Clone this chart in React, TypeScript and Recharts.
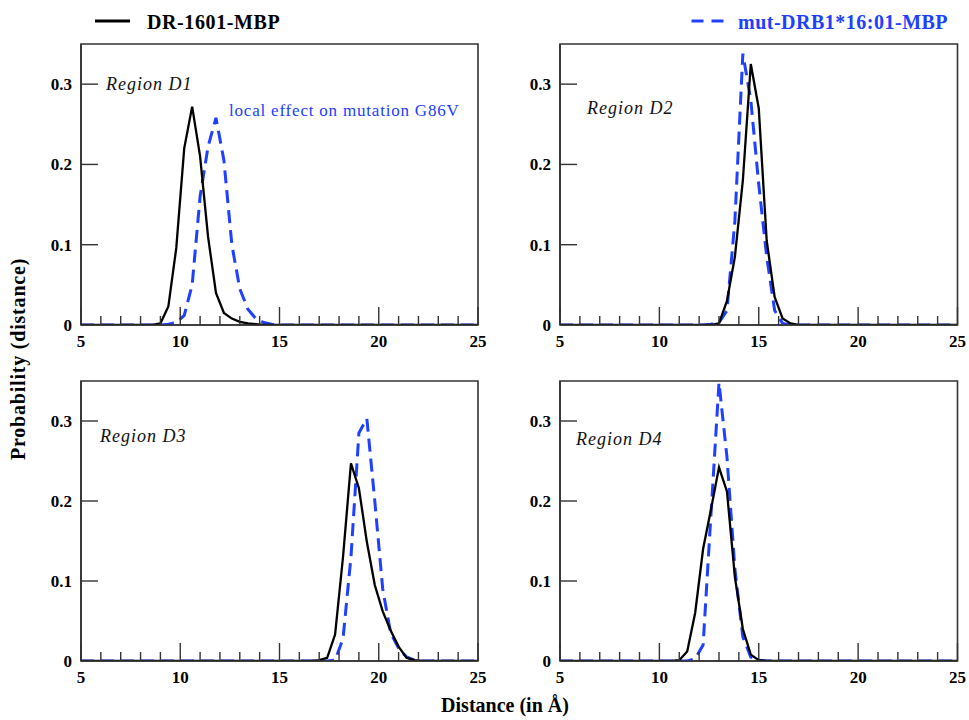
import { LineChart, Line, XAxis, YAxis, ReferenceArea } from 'recharts';

// distance bins (Å) and probabilities
const distD1 = [5, 8.6, 9.0, 9.4, 9.8, 10.2, 10.6, 11.0, 11.4, 11.8, 12.2, 12.6, 13.0, 13.4, 13.8, 14.2, 14.6, 15.0, 25];
const drD1 = [0, 0, 0.002, 0.023, 0.096, 0.22, 0.272, 0.21, 0.11, 0.04, 0.015, 0.008, 0.004, 0.002, 0.001, 0, 0, 0, 0];
const mutD1 = [0, 0, 0, 0.001, 0.003, 0.012, 0.05, 0.16, 0.222, 0.258, 0.205, 0.1, 0.045, 0.02, 0.008, 0.003, 0.001, 0, 0];

const distD2 = [5, 12.2, 12.6, 13.0, 13.4, 13.8, 14.2, 14.6, 15.0, 15.4, 15.8, 16.2, 16.6, 17.0, 25];
const drD2 = [0, 0, 0, 0.002, 0.03, 0.085, 0.18, 0.325, 0.27, 0.105, 0.035, 0.008, 0.002, 0, 0];
const mutD2 = [0, 0, 0.001, 0.003, 0.018, 0.13, 0.338, 0.28, 0.175, 0.085, 0.018, 0.002, 0, 0, 0];

const distD3 = [5, 16.6, 17.0, 17.4, 17.8, 18.2, 18.6, 19.0, 19.4, 19.8, 20.2, 20.6, 21.0, 21.4, 21.8, 22.2, 25];
const drD3 = [0, 0, 0.001, 0.004, 0.033, 0.13, 0.247, 0.216, 0.149, 0.095, 0.062, 0.038, 0.018, 0.004, 0.001, 0, 0];
const mutD3 = [0, 0, 0, 0, 0.001, 0.028, 0.13, 0.285, 0.303, 0.2, 0.09, 0.035, 0.016, 0.005, 0.001, 0, 0];

const distD4 = [5, 10.6, 11.0, 11.4, 11.8, 12.2, 12.6, 13.0, 13.4, 13.8, 14.2, 14.6, 15.0, 15.4, 25];
const drD4 = [0, 0, 0.001, 0.012, 0.06, 0.14, 0.19, 0.242, 0.212, 0.105, 0.04, 0.008, 0.001, 0, 0];
const mutD4 = [0, 0, 0, 0, 0.003, 0.02, 0.185, 0.348, 0.255, 0.115, 0.03, 0.005, 0.001, 0, 0];

const xTicks = [5, 6, 7, 8, 9, 10, 11, 12, 13, 14, 15, 16, 17, 18, 19, 20, 21, 22, 23, 24, 25];
const yTicks = [0, 0.1, 0.2, 0.3];

const SERIF = '"Liberation Serif", "Times New Roman", serif';
const BLUE = '#2040ff';
const AXIS = '#333';

function rows(xs: number[], dr: number[], mut: number[]) {
  return xs.map((x, i) => ({ x, dr: dr[i], mut: mut[i] }));
}

function XTick({ x, y, payload }: any) {
  const v = payload.value;
  const major = v % 5 === 0;
  return (
    <g>
      <line x1={x} x2={x} y1={y} y2={y - (major ? 18 : 9)} stroke={AXIS} strokeWidth={1.4} />
      {major && (
        <text x={x} y={y + 22} textAnchor="middle" fontFamily={SERIF} fontWeight="bold" fontSize={17} fill="#000">
          {v}
        </text>
      )}
    </g>
  );
}

function YTick({ x, y, payload }: any) {
  const v = payload.value;
  return (
    <g>
      {v > 0 && <line x1={x} x2={x + 17} y1={y} y2={y} stroke={AXIS} strokeWidth={1.4} />}
      <text x={x - 9} y={y + 6} textAnchor="end" fontFamily={SERIF} fontWeight="bold" fontSize={17} fill="#000">
        {v}
      </text>
    </g>
  );
}

interface PanelProps {
  left: number;
  top: number;
  w: number;
  h: number;
  data: { x: number; dr: number; mut: number }[];
}

function Panel({ left, top, w, h, data }: PanelProps) {
  return (
    <div style={{ position: 'absolute', left: left - 65, top: top - 5 }}>
      <LineChart width={w + 65 + 14} height={h + 40} data={data} margin={{ top: 5, right: 14, bottom: 0, left: 0 }}>
        <XAxis
          dataKey="x"
          type="number"
          domain={[5, 25]}
          ticks={xTicks}
          interval={0}
          allowDataOverflow
          height={35}
          tickSize={0}
          tickMargin={0}
          tickLine={false}
          axisLine={{ stroke: AXIS, strokeWidth: 1.6 }}
          tick={<XTick />}
        />
        <YAxis
          type="number"
          domain={[0, 0.35]}
          ticks={yTicks}
          interval={0}
          allowDataOverflow
          width={65}
          tickSize={0}
          tickMargin={0}
          tickLine={false}
          axisLine={{ stroke: AXIS, strokeWidth: 1.6 }}
          tick={<YTick />}
        />
        <ReferenceArea x1={5} x2={25} y1={0} y2={0.35} fill="none" stroke={AXIS} strokeWidth={1.6} />
        <Line
          type="linear"
          dataKey="mut"
          stroke={BLUE}
          strokeWidth={3}
          strokeDasharray="13 7"
          dot={false}
          isAnimationActive={false}
        />
        <Line type="linear" dataKey="dr" stroke="#000" strokeWidth={2.3} dot={false} isAnimationActive={false} />
      </LineChart>
    </div>
  );
}

const regionStyle = {
  fontFamily: SERIF,
  fontStyle: 'italic',
  fontSize: 18,
  letterSpacing: 1,
  fill: '#111',
};

export default function App() {
  return (
    <div style={{ position: 'absolute', left: 0, top: 0, width: 969, height: 720, background: '#fff' }}>
      <Panel left={81} top={44} w={397} h={281} data={rows(distD1, drD1, mutD1)} />
      <Panel left={559.5} top={44} w={397.5} h={281} data={rows(distD2, drD2, mutD2)} />
      <Panel left={81} top={381} w={397} h={280} data={rows(distD3, drD3, mutD3)} />
      <Panel left={559.5} top={381} w={397.5} h={280} data={rows(distD4, drD4, mutD4)} />

      <svg width={969} height={720} style={{ position: 'absolute', left: 0, top: 0, pointerEvents: 'none' }}>
        {/* legend */}
        <line x1={95} x2={130} y1={21} y2={21} stroke="#000" strokeWidth={3} />
        <text x={147} y={28.5} fontFamily={SERIF} fontWeight="bold" fontSize={20} letterSpacing={0.6} fill="#000">
          DR-1601-MBP
        </text>
        <line x1={691.5} x2={723.5} y1={21} y2={21} stroke={BLUE} strokeWidth={3} strokeDasharray="12 8" />
        <text x={738} y={28.5} fontFamily={SERIF} fontWeight="bold" fontSize={20} letterSpacing={0.5} fill={BLUE}>
          mut-DRB1*16:01-MBP
        </text>

        {/* panel annotations */}
        <text x={106} y={89.5} {...regionStyle}>Region D1</text>
        <text x={229} y={116} fontFamily={SERIF} fontSize={17} letterSpacing={0.8} fill={BLUE}>
          local effect on mutation G86V
        </text>
        <text x={587} y={114} {...regionStyle}>Region D2</text>
        <text x={100} y={441.5} {...regionStyle}>Region D3</text>
        <text x={576} y={445} {...regionStyle}>Region D4</text>

        {/* axis titles */}
        <text
          transform="translate(25,359) rotate(-90)"
          textAnchor="middle"
          fontFamily={SERIF}
          fontWeight="bold"
          fontSize={20}
          letterSpacing={0.8}
          fill="#000"
        >
          Probability (distance)
        </text>
        <text x={505} y={712} textAnchor="middle" fontFamily={SERIF} fontWeight="bold" fontSize={20} fill="#000">
          Distance (in Å)
        </text>
      </svg>
    </div>
  );
}
